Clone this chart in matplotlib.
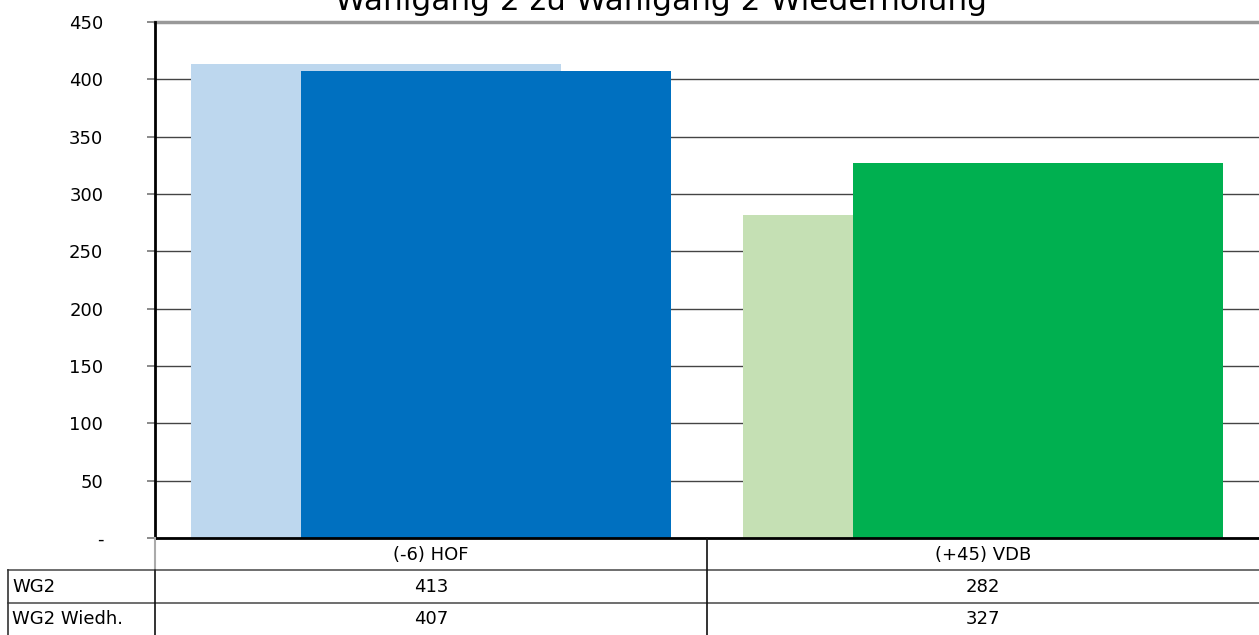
import matplotlib.pyplot as plt
from matplotlib.transforms import blended_transform_factory

plt.rcParams['font.family'] = ['DejaVu Sans']

categories = ['(-6) HOF', '(+45) VDB']
wg2 = [413, 282]
wg2_wiedh = [407, 327]
row_labels = ['WG2', 'WG2 Wiedh.']
yticks = [0, 50, 100, 150, 200, 250, 300, 350, 400, 450]
ytick_labels = ['-', '50', '100', '150', '200', '250', '300', '350', '400', '450']

light_colors = ['#BDD7EE', '#C5E0B4']
dark_colors = ['#0070C0', '#00B050']

W, H = 1259, 635
fig = plt.figure(figsize=(W / 100, H / 100), dpi=100)
ax = fig.add_axes([155 / W, (H - 538) / H, 1 - 155 / W, (538 - 22) / H])

x = list(range(len(categories)))
ax.bar([i - 0.1 for i in x], wg2, width=0.67, color=light_colors, zorder=2)
ax.bar([i + 0.1 for i in x], wg2_wiedh, width=0.67, color=dark_colors, zorder=3)

ax.set_xlim(-0.5, 1.5)
ax.set_ylim(0, 450)
ax.set_yticks(yticks)
ax.set_yticklabels(ytick_labels, fontsize=13)
ax.set_xticks([])
ax.tick_params(axis='y', length=5.8, width=1.2, color='#777777', pad=31.5)
ax.yaxis.grid(True, color='#444444', linewidth=1.0, zorder=1)
ax.set_axisbelow(True)
for s in ['top', 'right']:
    ax.spines[s].set_visible(False)
ax.spines['left'].set_linewidth(2)
ax.spines['left'].set_zorder(5)
ax.spines['bottom'].set_linewidth(2)
ax.spines['bottom'].set_zorder(5)
ax.axhline(450, color='#999999', linewidth=2.5, zorder=1, clip_on=False)

fig.text(661 / W, (H - 10) / H, 'Wahlgang 2 zu Wahlgang 2 Wiederholung',
         ha='center', va='baseline', fontsize=22.5)

# data table under the axes
tr = blended_transform_factory(ax.transData, fig.transFigure)
def fy(py):
    return (H - py) / H

for i, c in enumerate(categories):
    fig.text(i, fy(555), c, transform=tr, ha='center', va='center', fontsize=13)
    fig.text(i, fy(587), str(wg2[i]), transform=tr, ha='center', va='center', fontsize=13)
    fig.text(i, fy(619), str(wg2_wiedh[i]), transform=tr, ha='center', va='center', fontsize=13)
for j, lab in enumerate(row_labels):
    fig.text(12 / W, fy(587 + 32 * j), lab, ha='left', va='center', fontsize=13)

# table lines
fig.add_artist(plt.Line2D([8 / W, 1], [fy(570), fy(570)], color='#555555', lw=1.2))
fig.add_artist(plt.Line2D([8 / W, 1], [fy(603), fy(603)], color='#555555', lw=1.2))
fig.add_artist(plt.Line2D([8 / W, 8 / W], [fy(570), 0], color='#333333', lw=1.2))
fig.add_artist(plt.Line2D([155 / W, 155 / W], [fy(538), fy(570)], color='#aaaaaa', lw=1.5))
fig.add_artist(plt.Line2D([155 / W, 155 / W], [fy(570), 0], color='#111111', lw=1.2))
fig.add_artist(plt.Line2D([707 / W, 707 / W], [fy(538), 0], color='#111111', lw=1.2))

fig.savefig('out.png', dpi=100)
